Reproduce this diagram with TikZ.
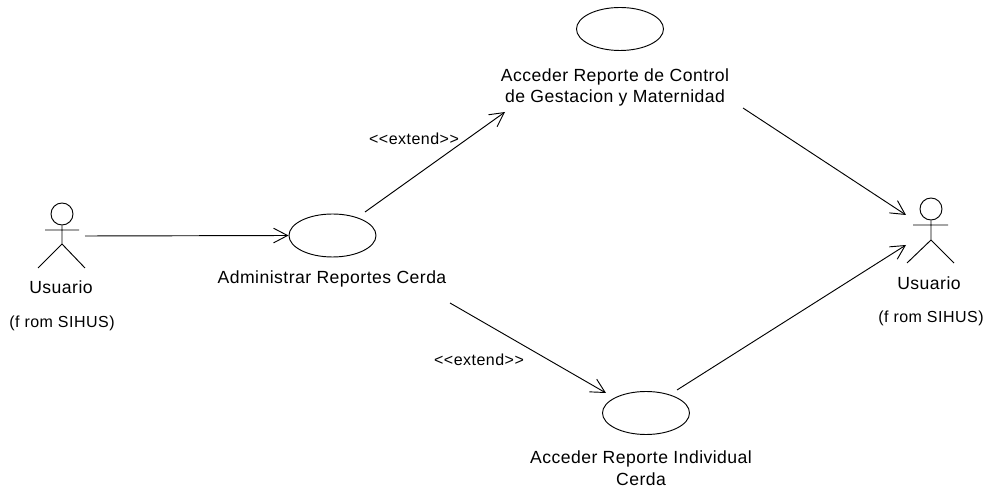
\documentclass[tikz,border=0pt]{standalone}
\usepackage{fontspec}
\setmainfont{Liberation Sans}
\newfontfamily\lblfont[LetterSpace=2.6]{Liberation Sans}
\newfontfamily\smallfont[LetterSpace=3]{Liberation Sans}
\usetikzlibrary{arrows.meta,shapes.geometric}
\tikzset{
  usecase/.style={draw=black,ellipse,minimum width=65.25pt,minimum height=32.25pt,inner sep=0pt,line width=0.7pt},
  lbl/.style={inner sep=0pt,align=center,font=\lblfont\fontsize{13.2pt}{16.2pt}\selectfont,text=black},
  small/.style={inner sep=0pt,align=center,font=\smallfont\fontsize{12pt}{14pt}\selectfont,text=black},
  conn/.style={draw=black,line width=0.7pt,-{Straight Barb[length=10.5pt,width=11pt,line width=0.7pt]}},
  limb/.style={draw=black,line width=0.7pt}
}
\begin{document}
\begin{tikzpicture}[x=0.75pt,y=-0.75pt]
\useasboundingbox (0,0) rectangle (989,491);
% left actor
\node[draw=black,circle,minimum size=16.5pt,inner sep=0pt,line width=0.7pt] (headL) at (62,214) {};
\coordinate (armLa) at (45,230); \coordinate (armLb) at (79,230);
\coordinate (hipL) at (62,244); \coordinate (legLa) at (38,268); \coordinate (legLb) at (85,268);
\draw[limb] (headL.south) -- (hipL) (armLa) -- (armLb) (legLa) -- (hipL) -- (legLb);
\node[lbl] (nameL) at (61,287) {Usuario};
\node[small] (fromL) at (62,323.5) {(f rom SIHUS)};
% right actor
\node[draw=black,circle,minimum size=16.5pt,inner sep=0pt,line width=0.7pt] (headR) at (931,209) {};
\coordinate (armRa) at (913,225); \coordinate (armRb) at (948,225);
\coordinate (hipR) at (931,240); \coordinate (legRa) at (907,263); \coordinate (legRb) at (954,263);
\draw[limb] (headR.south) -- (hipR) (armRa) -- (armRb) (legRa) -- (hipR) -- (legRb);
\node[lbl] (nameR) at (929,283) {Usuario};
\node[small] (fromR) at (931,318.5) {(f rom SIHUS)};
% use cases
\node[usecase] (top) at (620,29) {};
\node[lbl] (topL) at (615,87.5) {Acceder Reporte de Control\\de Gestacion y Maternidad};
\node[usecase] (adm) at (332.5,235.5) {};
\node[lbl] (admL) at (332,278.5) {Administrar Reportes Cerda};
\node[usecase] (ind) at (646,413) {};
\node[lbl] (indL) at (641,468.5) {Acceder Reporte Individual\\Cerda};
% connector ends
\coordinate (a1) at (85,236);
\coordinate (b1) at (365,212); \coordinate (b2) at (505,112);
\coordinate (c1) at (743,108); \coordinate (c2) at (906,215);
\coordinate (d1) at (450,303); \coordinate (d2) at (606,393);
\coordinate (e1) at (677,390); \coordinate (e2) at (906,245);
\draw[conn] (a1) -- (adm.west);
\draw[conn] (b1) -- (b2);
\draw[conn] (c1) -- (c2);
\draw[conn] (d1) -- (d2);
\draw[conn] (e1) -- (e2);
\node[small] (ext1) at (414,139) {<{}<extend>{}>};
\node[small] (ext2) at (479,360) {<{}<extend>{}>};
\end{tikzpicture}
\end{document}
